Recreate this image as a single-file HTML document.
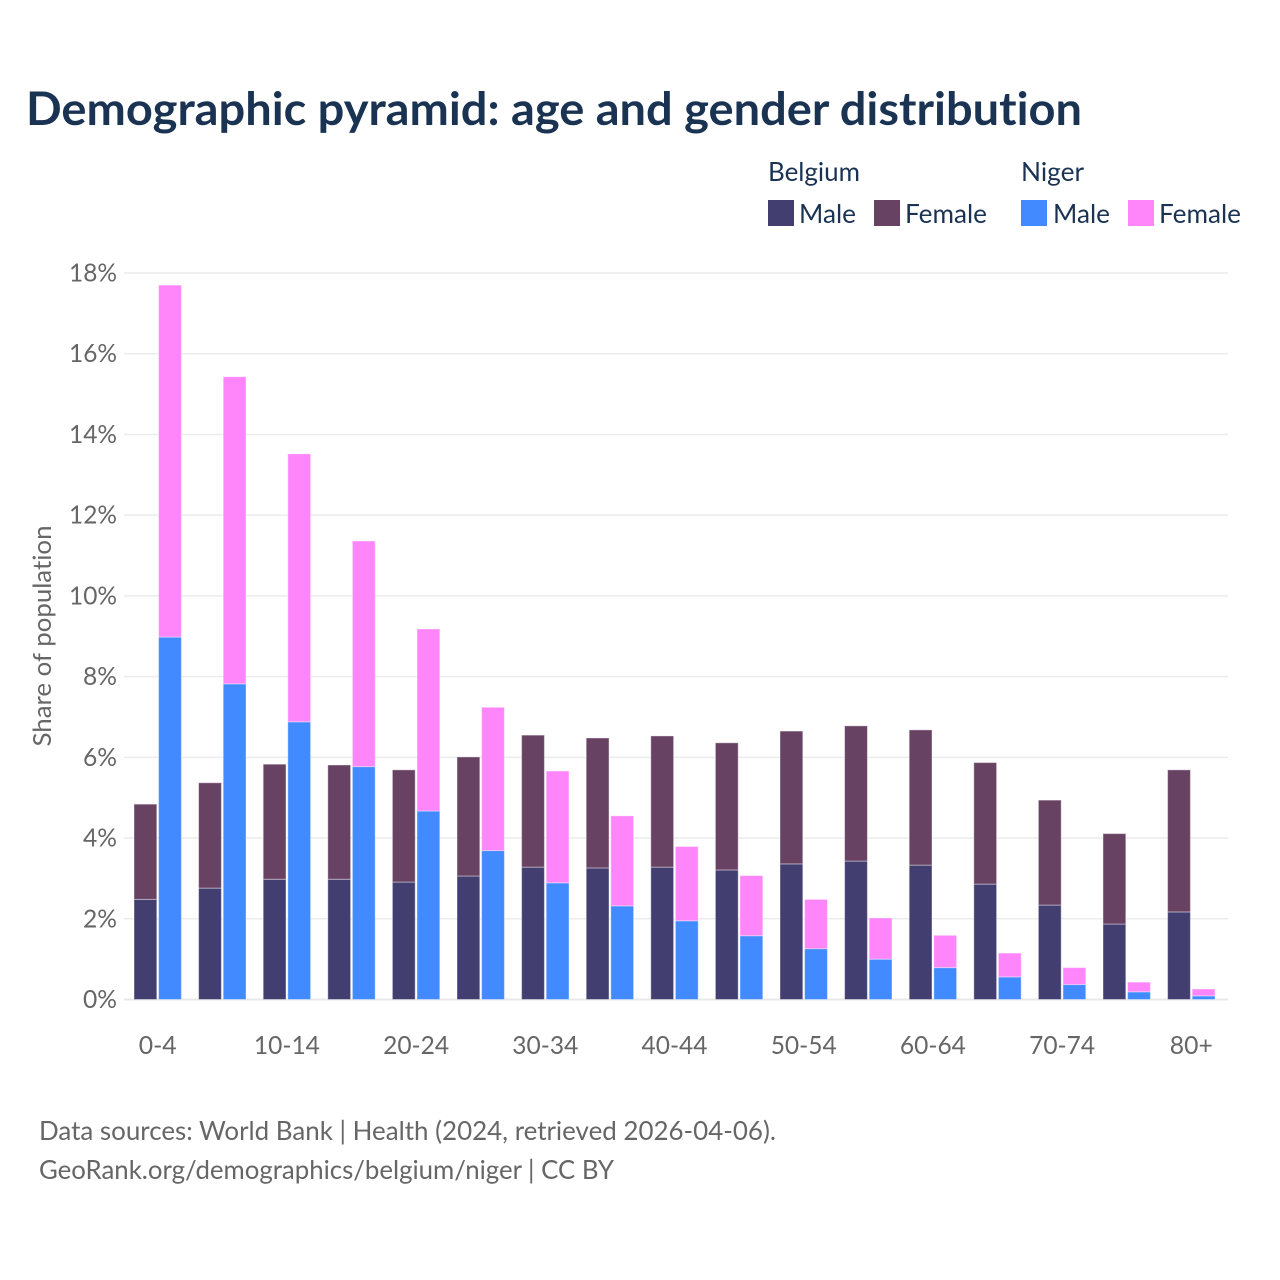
<!DOCTYPE html>
<html lang="en">
<head>
<meta charset="utf-8">
<title>Demographic pyramid: age and gender distribution</title>
<style>
html,body{margin:0;padding:0;background:#fff}
svg{display:block}
text{font-family:"Lato","Carlito","Liberation Sans",sans-serif;font-variant-ligatures:none;font-feature-settings:"liga" 0,"clig" 0}
</style>
</head>
<body>
<svg id="chart" xmlns="http://www.w3.org/2000/svg" width="1280" height="1280" viewBox="0 0 1280 1280">
  <rect width="1280" height="1280" fill="#fff"/>
  <text x="26" y="125" font-size="46" font-weight="700" fill="#1a3353" textLength="1056" lengthAdjust="spacingAndGlyphs">Demographic pyramid: age and gender distribution</text>
  <g font-size="26" fill="#1a3353">
    <text x="768" y="181" textLength="92" lengthAdjust="spacingAndGlyphs">Belgium</text>
    <text x="1021" y="181" textLength="63" lengthAdjust="spacingAndGlyphs">Niger</text>
    <rect x="768" y="200" width="26" height="26" fill="#433e70"/>
    <text x="799" y="223" textLength="57" lengthAdjust="spacingAndGlyphs">Male</text>
    <rect x="874" y="200" width="26" height="26" fill="#684263"/>
    <text x="905" y="223" textLength="82" lengthAdjust="spacingAndGlyphs">Female</text>
    <rect x="1021" y="200" width="26" height="26" fill="#418aff"/>
    <text x="1053" y="223" textLength="57" lengthAdjust="spacingAndGlyphs">Male</text>
    <rect x="1128" y="200" width="26" height="26" fill="#ff85fa"/>
    <text x="1159" y="223" textLength="82" lengthAdjust="spacingAndGlyphs">Female</text>
  </g>
  <g id="grid"></g>
  <g id="bars"></g>
  <g id="ytick-labels"></g>
  <g id="xtick-labels"></g>
  <text transform="translate(51,636) rotate(-90)" text-anchor="middle" font-size="25" fill="#666" textLength="221" lengthAdjust="spacingAndGlyphs">Share of population</text>
  <g font-size="26" fill="#666">
    <text x="39" y="1140" textLength="737" lengthAdjust="spacingAndGlyphs">Data sources: World Bank | Health (2024, retrieved 2026-04-06).</text>
    <text x="39" y="1179" textLength="575" lengthAdjust="spacingAndGlyphs">GeoRank.org/demographics/belgium/niger | CC BY</text>
  </g>
</svg>
<script>
const categories = ['0-4','5-9','10-14','15-19','20-24','25-29','30-34','35-39','40-44','45-49','50-54','55-59','60-64','65-69','70-74','75-79','80+'];
const visibleCategoryLabels = ['0-4','10-14','20-24','30-34','40-44','50-54','60-64','70-74','80+'];
const yTicks = [0,2,4,6,8,10,12,14,16,18];
const belgiumMale = [2.48,2.76,2.98,2.98,2.91,3.06,3.28,3.26,3.28,3.21,3.36,3.43,3.33,2.86,2.34,1.87,2.17];
const belgiumFemale = [2.36,2.61,2.85,2.83,2.78,2.95,3.27,3.22,3.25,3.15,3.29,3.35,3.35,3.01,2.60,2.24,3.52];
const nigerMale = [8.98,7.82,6.88,5.77,4.67,3.69,2.89,2.32,1.95,1.58,1.26,1.00,0.79,0.56,0.37,0.19,0.09];
const nigerFemale = [8.72,7.61,6.64,5.59,4.51,3.55,2.77,2.23,1.84,1.49,1.22,1.02,0.80,0.59,0.42,0.24,0.17];

const NS = 'http://www.w3.org/2000/svg';
const plot = {left: 124, right: 1228, zeroY: 999.5, topY: 273, maxValue: 18, step: 64.6, firstBar: 134, barW: 22.8, barGap: 1.8};
function yScale(v){ return plot.zeroY - (v / plot.maxValue) * (plot.zeroY - plot.topY); }
function xScale(i){ return plot.firstBar + i * plot.step; }

const grid = document.getElementById('grid');
const yLabels = document.getElementById('ytick-labels');
yTicks.forEach(function(t){
  const line = document.createElementNS(NS,'line');
  
  
  line.setAttribute('x1', plot.left);
  line.setAttribute('x2', plot.right);
  line.setAttribute('y1', yScale(t));
  line.setAttribute('y2', yScale(t));
  line.setAttribute('stroke', t === 0 ? '#e8e8e8' : '#ececec');
  line.setAttribute('stroke-width', t === 0 ? 2 : 1.5);
  grid.appendChild(line);
  const label = document.createElementNS(NS,'text');
  
  
  label.setAttribute('x', 117);
  label.setAttribute('y', yScale(t) + 8.5);
  label.setAttribute('text-anchor', 'end');
  label.setAttribute('font-size', '25');
  label.setAttribute('fill', '#666');
  label.setAttribute('textLength', t >= 10 ? 48 : 34);
  label.setAttribute('lengthAdjust', 'spacingAndGlyphs');
  label.textContent = t + '%';
  yLabels.appendChild(label);
});

const bars = document.getElementById('bars');
function drawBar(x, base, value, color, name){
  const r = document.createElementNS(NS,'rect');
  
  
  r.setAttribute('x', x);
  r.setAttribute('y', yScale(base + value));
  r.setAttribute('width', plot.barW);
  r.setAttribute('height', yScale(base) - yScale(base + value));
  r.setAttribute('fill', color);
  r.setAttribute('stroke', '#fff');
  r.setAttribute('stroke-opacity', '0.4');
  r.setAttribute('stroke-width', '1');
  bars.appendChild(r);
}
categories.forEach(function(c, i){
  const x0 = xScale(i);
  const x1 = x0 + plot.barW + plot.barGap;
  drawBar(x0, 0, belgiumMale[i], '#433e70', 'bar-belgium-male');
  drawBar(x0, belgiumMale[i], belgiumFemale[i], '#684263', 'bar-belgium-female');
  drawBar(x1, 0, nigerMale[i], '#418aff', 'bar-niger-male');
  drawBar(x1, nigerMale[i], nigerFemale[i], '#ff85fa', 'bar-niger-female');
});

const xLabels = document.getElementById('xtick-labels');
categories.forEach(function(c, i){
  if (visibleCategoryLabels.indexOf(c) < 0) return;
  const label = document.createElementNS(NS,'text');
  
  
  label.setAttribute('x', xScale(i) + plot.barW + plot.barGap / 2);
  label.setAttribute('y', 1054);
  label.setAttribute('text-anchor', 'middle');
  label.setAttribute('font-size', '25');
  label.setAttribute('fill', '#666');
  label.setAttribute('textLength', c === '0-4' ? 38 : (c === '80+' ? 43 : 66));
  label.setAttribute('lengthAdjust', 'spacingAndGlyphs');
  label.textContent = c;
  xLabels.appendChild(label);
});
</script>
</body>
</html>
